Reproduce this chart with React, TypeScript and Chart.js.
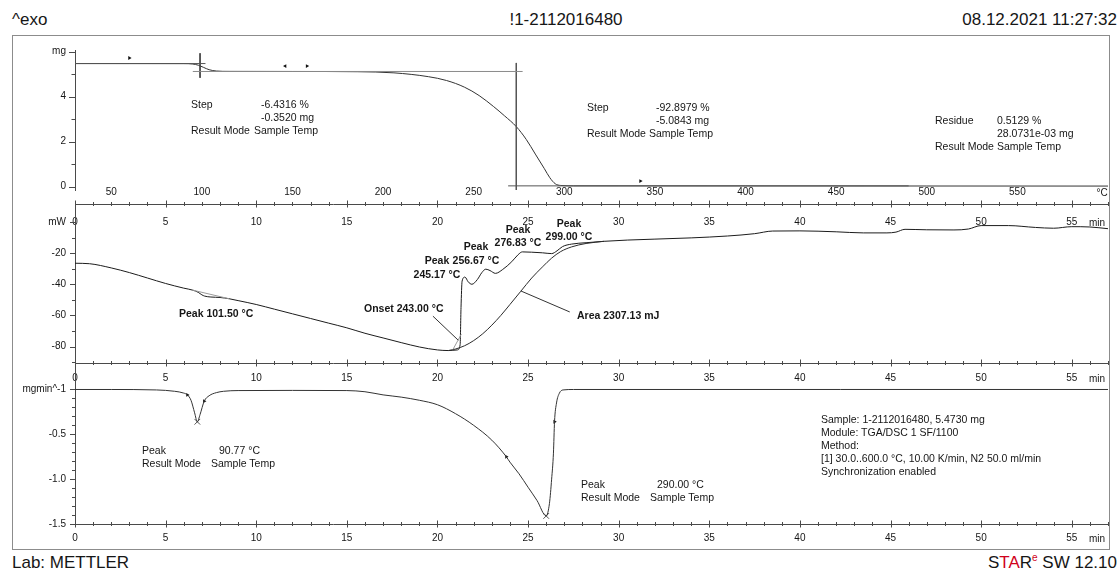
import React, { useEffect, useRef } from 'react';
import { Chart, registerables } from 'chart.js';

Chart.register(...registerables);

// ---------- run parameters ----------
const sampleId = '1-2112016480';
const startTemp = 30; // °C
const endTemp = 600; // °C
const runMinutes = 57;

// ---------- TGA (mass vs. sample temperature) ----------
const sampleMass = 5.473; // mg
const step1Loss = 0.352; // mg
const step2Loss = 5.0843; // mg
const residueMass = 0.0280731; // mg

const tgaTemp = [30, 60, 90, 95, 98, 101, 104, 108, 115, 150, 186, 206, 225, 235, 245, 253, 261, 267, 273.5, 279, 284, 289, 292, 295, 298, 305, 400, 500, 600];
const tgaMass = [5.473, 5.472, 5.47, 5.452, 5.4, 5.3, 5.2, 5.142, 5.125, 5.121, 5.11, 5.06, 4.89, 4.72, 4.42, 4.05, 3.56, 3.15, 2.67, 2.1, 1.45, 0.8, 0.4, 0.13, 0.055, 0.037, 0.034, 0.031, 0.028];

// evaluation construction lines of the two steps
const step1TangentTemp = [30, 102];
const step1BaseTemp = [95, 277];
const step1MarkTemp = 99;
const step1MarkMass = [5.93, 4.84];
const step2MarkTemp = 273.5;
const step2MarkMass = [5.5, -0.2];
const step2BaseTemp = [269, 490];

// evaluation limit flags on the TGA curve
const tgaFlagTemp = [60, 146, 158, 342];
const tgaFlagMass = [5.72, 5.36, 5.36, 0.25];
const tgaFlagTurn = [90, -90, 90, 90];

const tgaMassTicks = [0, 1, 2, 3, 4, 5, 6];
const tgaMassLabels = [0, 2, 4];
const tempLabels = [50, 100, 150, 200, 250, 300, 350, 400, 450, 500, 550];

// ---------- DSC (heat flow vs. time) ----------
const dscTime = [0, 0.8, 2, 3, 4, 5, 6, 6.5, 6.8, 7.0, 7.15, 7.5, 8.0, 8.5, 9, 10, 11, 12, 13, 14, 15, 16, 17, 18, 19, 20, 20.6, 21.1, 21.25, 21.3, 21.36, 21.517, 21.7, 21.9, 22.2, 22.45, 22.667, 22.9, 23.2, 23.6, 24.1, 24.45, 24.683, 25.2, 25.8, 26.3, 26.6, 26.9, 27.4, 28.2, 29.2, 30.5, 32, 34, 36, 37.5, 38.5, 40, 42, 43.5, 44.8, 45.3, 45.8, 47, 48.5, 49.3, 50, 51.5, 53, 54, 55, 56, 57];
const dscPower = [-26.5, -26.8, -29.5, -32.5, -36, -39.5, -42.5, -43.8, -45.2, -46.8, -47.6, -48.2, -48.5, -49.3, -50.5, -53, -56, -59, -62, -65, -68, -71.5, -74.5, -77.5, -80.3, -82.2, -82.6, -82.2, -79, -55, -38, -35.4, -38.5, -40, -37, -32.5, -30.3, -31.2, -33, -30.5, -25.5, -21, -19.2, -19.4, -19.8, -20.3, -18.5, -15.8, -14.2, -13.3, -12.4, -11.6, -11, -10.2, -9, -7.5, -5.8, -5.7, -6.3, -7, -7, -6.5, -4.7, -5, -5.1, -4.5, -2.3, -2.3, -3.5, -4, -3, -3.2, -4.3];

// integration baseline under the decomposition region
const dscBaseTime = [20.6, 21.0, 21.5, 22, 22.5, 23, 23.5, 24, 24.6, 25.2, 25.8, 26.3, 26.8, 27.4, 28.2, 29.2];
const dscBasePower = [-82.6, -81.6, -79.5, -76.2, -71.8, -66.3, -60, -53, -44.5, -36, -28.8, -23.2, -19, -16, -13.8, -12.4];

// baseline below the small endotherm
const dscPeak1BaseTime = [6.5, 8.5];
const dscPeak1BasePower = [-43.8, -49.3];

// onset tangent and label leaders
const onsetTangentTime = [20.85, 21.32];
const onsetTangentPower = [-82, -72];
const onsetLeaderTime = [19.75, 21.15];
const onsetLeaderPower = [-60.5, -76];
const areaLeaderTime = [24.6, 27.3];
const areaLeaderPower = [-44.3, -57.8];

const dscPeakTemps = [245.17, 256.67, 276.83, 299.0];
const dscSmallPeakTemp = 101.5;
const dscOnsetTemp = 243.0;
const dscArea = 2307.13; // mJ

const dscTicks = [-90, -80, -70, -60, -50, -40, -30, -20, -10, 0];
const dscLabels = [-80, -60, -40, -20];

// ---------- DTG (mass change rate vs. time) ----------
const dtgTime = [0, 2, 4.5, 5.5, 6, 6.2, 6.4, 6.6, 6.75, 6.9, 7.13, 7.4, 7.8, 8.2, 9, 12, 15, 16, 17, 18, 19, 20, 21, 22, 23, 23.8, 24, 24.5, 25, 25.5, 26.0, 26.18, 26.3, 26.4, 26.46, 26.57, 26.73, 26.93, 27.5, 57];
const dtgRate = [0, 0, -0.005, -0.02, -0.04, -0.06, -0.12, -0.26, -0.36, -0.28, -0.13, -0.07, -0.035, -0.02, -0.012, -0.01, -0.012, -0.025, -0.06, -0.085, -0.12, -0.17, -0.27, -0.4, -0.565, -0.75, -0.81, -0.94, -1.09, -1.24, -1.41, -1.27, -1.0, -0.71, -0.36, -0.15, -0.04, -0.005, 0, 0];

const dtgFlagTime = [6.2, 7.13, 23.8, 26.46];
const dtgFlagRate = [-0.06, -0.13, -0.75, -0.36];
const dtgPeakTime = [6.75, 26.0];
const dtgPeakRate = [-0.36, -1.41];
const dtgPeakTemps = [90.77, 290.0];

const dtgTicks = [-1.5, -1.4, -1.3, -1.2, -1.1, -1.0, -0.9, -0.8, -0.7, -0.6, -0.5, -0.4, -0.3, -0.2, -0.1, 0];
const dtgLabels = [-1.5, -1.0, -0.5];

const timeLabels = [0, 5, 10, 15, 20, 25, 30, 35, 40, 45, 50, 55];
const timeTicks = Array.from({ length: runMinutes + 1 }, (_, i) => i);

// ---------- page layout ----------
const PAGE_W = 1120;
const PLOT_LEFT = 75;
const PLOT_RIGHT = 1108;
const FONT = '"Liberation Sans", Arial, Helvetica, sans-serif';
const INK = '#161616';
const AXIS = '#4a4a4a';
const CURVE = '#333333';
const HELPER = '#8a8a8a';

const tickFont = { family: FONT, size: 10 };

const pts = (xs: number[], ys: number[]) => xs.map((x, i) => ({ x, y: ys[i] }));
const near = (a: number, b: number) => Math.abs(a - b) < 1e-6;

function makeTickMarks(specs: { id: string; majors: number[]; major: number; minor: number; edges?: string[] }[]) {
  return {
    id: 'tickMarks',
    afterDatasetsDraw(chart: any) {
      const { ctx, chartArea } = chart;
      ctx.save();
      ctx.strokeStyle = AXIS;
      ctx.lineWidth = 1;
      ctx.beginPath();
      for (const spec of specs) {
        const scale = chart.scales[spec.id];
        if (!scale) continue;
        for (const tick of scale.ticks) {
          const isMajor = spec.majors.some((m) => near(m, tick.value));
          const len = isMajor ? spec.major : spec.minor;
          const p = Math.round(scale.getPixelForValue(tick.value)) + 0.5;
          if (scale.isHorizontal()) {
            for (const edge of spec.edges || []) {
              const y = Math.round(edge === 'top' ? chartArea.top : chartArea.bottom);
              ctx.moveTo(p, y - len);
              ctx.lineTo(p, y + len);
            }
          } else {
            const x = Math.round(chartArea.left);
            ctx.moveTo(x - len, p);
            ctx.lineTo(x, p);
          }
        }
      }
      ctx.stroke();
      ctx.restore();
    },
  };
}

function yScale(min: number, max: number, ticks: number[], label: (v: number) => string) {
  return {
    type: 'linear',
    position: 'left',
    min,
    max,
    bounds: 'data',
    grid: { display: false, drawTicks: false },
    border: { display: true, color: AXIS, width: 1 },
    ticks: { font: tickFont, color: INK, padding: 9, autoSkip: false, callback: (v: number) => label(v) },
    afterBuildTicks: (s: any) => {
      s.ticks = ticks.map((v) => ({ value: v }));
    },
    afterFit: (s: any) => {
      s.width = PLOT_LEFT;
      s.paddingTop = 0;
      s.paddingBottom = 0;
      s.paddingLeft = 0;
      s.paddingRight = 0;
    },
  };
}

function xScale(opts: {
  position: string;
  min: number;
  max: number;
  ticks: number[];
  labels: number[];
  height: number;
  padding: number;
  border: boolean;
  mirror?: boolean;
}) {
  return {
    type: 'linear',
    position: opts.position,
    min: opts.min,
    max: opts.max,
    bounds: 'data',
    grid: { display: false, drawTicks: false },
    border: { display: opts.border, color: AXIS, width: 1 },
    ticks: {
      font: tickFont,
      color: INK,
      padding: opts.padding,
      mirror: !!opts.mirror,
      autoSkip: false,
      maxRotation: 0,
      minRotation: 0,
      callback: (v: number) => (opts.labels.some((l) => near(l, v)) ? String(v) : ''),
    },
    afterBuildTicks: (s: any) => {
      s.ticks = opts.ticks.map((v) => ({ value: v }));
    },
    afterFit: (s: any) => {
      s.height = opts.height;
      s.paddingTop = 0;
      s.paddingBottom = 0;
      s.paddingLeft = 0;
      s.paddingRight = 0;
    },
  };
}

const lineSet = (data: any[], color: string, extra: any = {}) => ({
  data,
  borderColor: color,
  borderWidth: 1,
  pointRadius: 0,
  showLine: true,
  fill: false,
  tension: 0,
  ...extra,
});

const baseOptions = (paddingTop: number) => ({
  responsive: false,
  maintainAspectRatio: false,
  animation: false,
  events: [],
  devicePixelRatio: 1,
  layout: { padding: { left: 0, right: PAGE_W - PLOT_RIGHT, top: paddingTop, bottom: 0 } },
  plugins: { legend: { display: false }, tooltip: { enabled: false } },
});

// ---------- chart configs ----------
function tgaConfig(): any {
  const plateau = sampleMass - step1Loss;
  const finalLevel = plateau - step2Loss;
  return {
    type: 'line',
    data: {
      datasets: [
        lineSet(pts(step1TangentTemp, [sampleMass, sampleMass]), '#555'),
        lineSet(pts(step1BaseTemp, [plateau, plateau]), HELPER),
        lineSet(pts([step1MarkTemp, step1MarkTemp], step1MarkMass), '#444'),
        lineSet(pts([step2MarkTemp, step2MarkTemp], step2MarkMass), '#555'),
        lineSet(pts(step2BaseTemp, [finalLevel, finalLevel]), '#555'),
        lineSet(pts(tgaTemp, tgaMass), CURVE, { cubicInterpolationMode: 'monotone' }),
        {
          data: pts(tgaFlagTemp, tgaFlagMass),
          showLine: false,
          pointStyle: 'triangle',
          pointRotation: tgaFlagTurn,
          pointRadius: 2.2,
          pointBackgroundColor: '#111',
          pointBorderColor: '#111',
          pointBorderWidth: 0,
        },
      ],
    },
    options: {
      ...baseOptions(14),
      scales: {
        // temperature labels sit just above the time axis line below
        x: xScale({ position: 'bottom', min: startTemp, max: endTemp, ticks: tempLabels, labels: tempLabels, height: 20, padding: -8.5, border: false, mirror: true }),
        y: yScale(-0.1467, 6.0756, tgaMassTicks, (v) => (near(v, 6) ? 'mg' : tgaMassLabels.some((l) => near(l, v)) ? String(v) : '')),
      },
    },
    plugins: [makeTickMarks([{ id: 'y', majors: [0, 2, 4, 6], major: 6, minor: 3.5 }])],
  };
}

function dscConfig(): any {
  return {
    type: 'line',
    data: {
      datasets: [
        lineSet(pts(dscPeak1BaseTime, dscPeak1BasePower), '#9a9a9a'),
        lineSet(pts(onsetTangentTime, onsetTangentPower), '#9a9a9a'),
        lineSet(pts(onsetLeaderTime, onsetLeaderPower), '#333'),
        lineSet(pts(areaLeaderTime, areaLeaderPower), '#333'),
        lineSet(pts(dscBaseTime, dscBasePower), '#2a2a2a', { cubicInterpolationMode: 'monotone' }),
        lineSet(pts(dscTime, dscPower), '#1c1c1c', { cubicInterpolationMode: 'monotone' }),
      ],
    },
    options: {
      ...baseOptions(0),
      scales: {
        x: xScale({ position: 'bottom', min: 0, max: runMinutes, ticks: timeTicks, labels: timeLabels, height: 32, padding: 9, border: true }),
        xTop: xScale({ position: 'top', min: 0, max: runMinutes, ticks: timeTicks, labels: timeLabels, height: 10, padding: 12, border: true, mirror: true }),
        y: yScale(-90.6, 11.57, dscTicks, (v) => (near(v, 0) ? 'mW' : dscLabels.some((l) => near(l, v)) ? String(v) : '')),
      },
    },
    plugins: [
      makeTickMarks([
        { id: 'x', majors: timeLabels, major: 3.5, minor: 2, edges: ['top', 'bottom'] },
        { id: 'y', majors: [0, ...dscLabels], major: 5, minor: 3 },
      ]),
    ],
  };
}

function dtgConfig(): any {
  return {
    type: 'line',
    data: {
      datasets: [
        lineSet(pts(dtgTime, dtgRate), CURVE, { cubicInterpolationMode: 'monotone' }),
        {
          data: pts(dtgFlagTime, dtgFlagRate),
          showLine: false,
          pointStyle: 'triangle',
          pointRotation: 90,
          pointRadius: 2.2,
          pointBackgroundColor: '#111',
          pointBorderColor: '#111',
          pointBorderWidth: 0,
        },
        {
          data: pts(dtgPeakTime, dtgPeakRate),
          showLine: false,
          pointStyle: 'crossRot',
          pointRadius: 4,
          pointBorderColor: '#555',
          pointBorderWidth: 1,
        },
      ],
    },
    options: {
      ...baseOptions(8),
      scales: {
        x: xScale({ position: 'bottom', min: 0, max: runMinutes, ticks: timeTicks, labels: timeLabels, height: 24, padding: 8.5, border: true }),
        y: yScale(-1.5, 0.2955, dtgTicks, (v) => (near(v, 0) ? 'mgmin^-1' : dtgLabels.some((l) => near(l, v)) ? v.toFixed(1) : '')),
      },
    },
    plugins: [
      makeTickMarks([
        { id: 'x', majors: timeLabels, major: 3.5, minor: 2, edges: ['bottom'] },
        { id: 'y', majors: [0, ...dtgLabels], major: 5, minor: 3 },
      ]),
    ],
  };
}

// ---------- components ----------
function ChartCanvas({ top, height, config }: { top: number; height: number; config: () => any }) {
  const ref = useRef<HTMLCanvasElement>(null);
  useEffect(() => {
    const chart = new Chart(ref.current as HTMLCanvasElement, config());
    return () => chart.destroy();
  }, []);
  return (
    <canvas
      ref={ref}
      width={PAGE_W}
      height={height}
      style={{ position: 'absolute', left: 0, top, width: PAGE_W, height }}
    />
  );
}

type TextProps = {
  x: number;
  y: number;
  children: React.ReactNode;
  size?: number;
  bold?: boolean;
  align?: 'left' | 'center' | 'right';
  color?: string;
};

function Txt({ x, y, children, size = 10.5, bold = false, align = 'left', color = INK }: TextProps) {
  const lh = Math.round(size * 1.3);
  const style: React.CSSProperties = {
    position: 'absolute',
    top: y - lh / 2,
    lineHeight: `${lh}px`,
    fontSize: size,
    fontWeight: bold ? 700 : 400,
    whiteSpace: 'pre',
    color,
  };
  if (align === 'left') style.left = x;
  else if (align === 'right') style.right = PAGE_W - x;
  else {
    style.left = x;
    style.transform = 'translateX(-50%)';
  }
  return <div style={style}>{children}</div>;
}

const pct = (mg: number) => ((mg / sampleMass) * 100).toFixed(4);
const degC = (t: number) => `${t.toFixed(2)} °C`;

export default function App() {
  const heatingRate = (endTemp - startTemp) / runMinutes;
  return (
    <div
      style={{
        position: 'fixed',
        left: 0,
        top: 0,
        width: PAGE_W,
        height: 571,
        background: '#fff',
        overflow: 'hidden',
        fontFamily: FONT,
        color: INK,
      }}
    >
      {/* header */}
      <Txt x={12} y={20} size={17}>^exo</Txt>
      <Txt x={566} y={20} size={17} align="center">{'!' + sampleId}</Txt>
      <Txt x={1117} y={20} size={17} align="right">08.12.2021 11:27:32</Txt>

      {/* frame */}
      <div
        style={{
          position: 'absolute',
          left: 12,
          top: 35,
          width: 1098,
          height: 515,
          border: '1px solid #8c8c8c',
          boxSizing: 'border-box',
        }}
      />

      <ChartCanvas top={36} height={174} config={tgaConfig} />
      <ChartCanvas top={194} height={201} config={dscConfig} />
      <ChartCanvas top={355} height={193} config={dtgConfig} />

      {/* axis units */}
      <Txt x={1102} y={192} size={10} align="center">°C</Txt>
      <Txt x={1097} y={222} size={10} align="center">min</Txt>
      <Txt x={1097} y={378} size={10} align="center">min</Txt>
      <Txt x={1097} y={538} size={10} align="center">min</Txt>

      {/* TGA evaluations */}
      <Txt x={191} y={104}>Step</Txt>
      <Txt x={261} y={104}>{`-${pct(step1Loss)} %`}</Txt>
      <Txt x={261} y={117}>{`-${step1Loss.toFixed(4)} mg`}</Txt>
      <Txt x={191} y={130}>Result Mode</Txt>
      <Txt x={254} y={130}>Sample Temp</Txt>

      <Txt x={587} y={107}>Step</Txt>
      <Txt x={656} y={107}>{`-${pct(step2Loss)} %`}</Txt>
      <Txt x={656} y={120}>{`-${step2Loss.toFixed(4)} mg`}</Txt>
      <Txt x={587} y={133}>Result Mode</Txt>
      <Txt x={649} y={133}>Sample Temp</Txt>

      <Txt x={935} y={120}>Residue</Txt>
      <Txt x={997} y={120}>{`${pct(residueMass)} %`}</Txt>
      <Txt x={997} y={133}>{`${(residueMass * 1000).toFixed(4)}e-03 mg`}</Txt>
      <Txt x={935} y={146}>Result Mode</Txt>
      <Txt x={997} y={146}>Sample Temp</Txt>

      {/* DSC evaluations */}
      <Txt x={179} y={313} bold>{`Peak ${degC(dscSmallPeakTemp)}`}</Txt>
      <Txt x={364} y={308} bold>{`Onset ${degC(dscOnsetTemp)}`}</Txt>
      <Txt x={577} y={315} bold>{`Area ${dscArea.toFixed(2)} mJ`}</Txt>
      <Txt x={437} y={260} bold align="center">Peak</Txt>
      <Txt x={437} y={274} bold align="center">{degC(dscPeakTemps[0])}</Txt>
      <Txt x={476} y={246} bold align="center">Peak</Txt>
      <Txt x={476} y={260} bold align="center">{degC(dscPeakTemps[1])}</Txt>
      <Txt x={518} y={229} bold align="center">Peak</Txt>
      <Txt x={518} y={242} bold align="center">{degC(dscPeakTemps[2])}</Txt>
      <Txt x={569} y={223} bold align="center">Peak</Txt>
      <Txt x={569} y={236} bold align="center">{degC(dscPeakTemps[3])}</Txt>

      {/* DTG evaluations */}
      <Txt x={142} y={450}>Peak</Txt>
      <Txt x={219} y={450}>{degC(dtgPeakTemps[0])}</Txt>
      <Txt x={142} y={463}>Result Mode</Txt>
      <Txt x={211} y={463}>Sample Temp</Txt>
      <Txt x={581} y={484}>Peak</Txt>
      <Txt x={657} y={484}>{degC(dtgPeakTemps[1])}</Txt>
      <Txt x={581} y={497}>Result Mode</Txt>
      <Txt x={650} y={497}>Sample Temp</Txt>

      {/* sample information */}
      <Txt x={821} y={419}>{`Sample: ${sampleId}, ${sampleMass.toFixed(4)} mg`}</Txt>
      <Txt x={821} y={432}>Module: TGA/DSC 1 SF/1100</Txt>
      <Txt x={821} y={445}>Method:</Txt>
      <Txt x={821} y={458}>{`[1] ${startTemp.toFixed(1)}..${endTemp.toFixed(1)} °C, ${heatingRate.toFixed(2)} K/min, N2 50.0 ml/min`}</Txt>
      <Txt x={821} y={471}>Synchronization enabled</Txt>

      {/* footer */}
      <Txt x={12} y={563} size={17}>Lab: METTLER</Txt>
      <Txt x={1117} y={563} size={17} align="right">
        S<span style={{ color: '#d0021b' }}>TA</span>R
        <sup style={{ color: '#d0021b', fontSize: 10, verticalAlign: 'super', lineHeight: 0 }}>e</sup> SW 12.10
      </Txt>
    </div>
  );
}
